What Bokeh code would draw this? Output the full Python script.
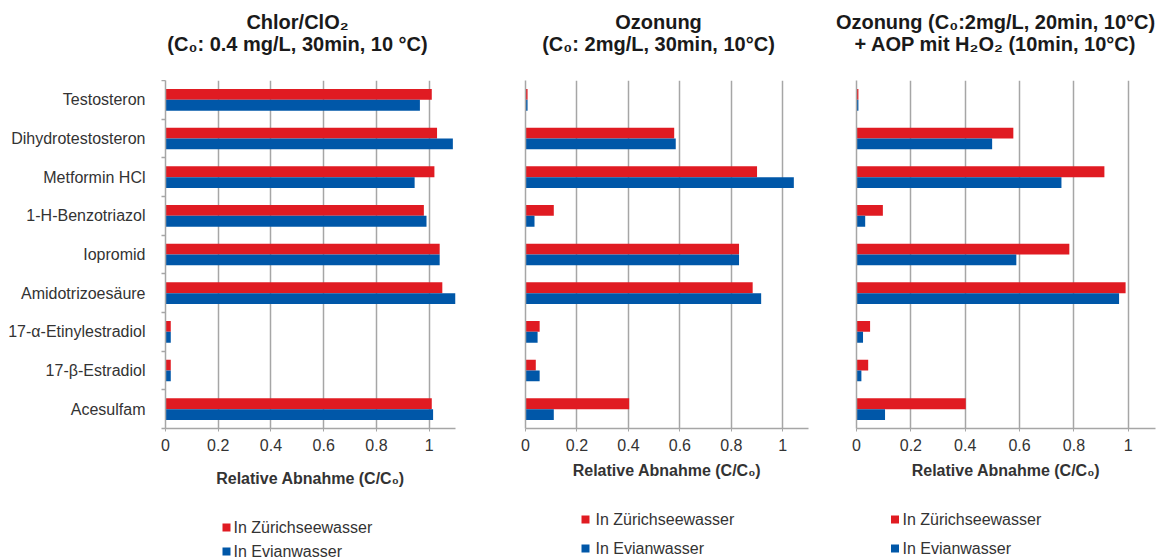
from bokeh.plotting import figure
from bokeh.layouts import row, column
from bokeh.models import ColumnDataSource, FixedTicker, Range1d
from bokeh.core.properties import value
from bokeh.embed import file_html
from bokeh.resources import INLINE

# Substances, top to bottom
categories = ["Testosteron", "Dihydrotestosteron", "Metformin HCl", "1-H-Benzotriazol",
              "Iopromid", "Amidotrizoesäure", "17-α-Etinylestradiol", "17-β-Estradiol",
              "Acesulfam"]

# Relative Abnahme C/C0 per treatment, two water matrices
chlor_zuerich = [1.01, 1.03, 1.02, 0.98, 1.04, 1.05, 0.02, 0.02, 1.01]
chlor_evian = [0.965, 1.09, 0.945, 0.99, 1.04, 1.10, 0.02, 0.02, 1.015]
ozon_zuerich = [0.008, 0.578, 0.90, 0.11, 0.83, 0.883, 0.055, 0.04, 0.403]
ozon_evian = [0.008, 0.584, 1.043, 0.035, 0.83, 0.916, 0.047, 0.055, 0.11]
aop_zuerich = [0.007, 0.577, 0.912, 0.097, 0.783, 0.99, 0.05, 0.043, 0.402]
aop_evian = [0.007, 0.499, 0.754, 0.032, 0.588, 0.966, 0.024, 0.018, 0.105]

titles = [
    ["Chlor/ClO₂", "(C₀: 0.4 mg/L, 30min, 10 °C)"],
    ["Ozonung", "(C₀: 2mg/L, 30min, 10°C)"],
    ["Ozonung (C₀:2mg/L, 20min, 10°C)", "+ AOP mit H₂O₂ (10min, 10°C)"],
]
series_names = ["In Zürichseewasser", "In Evianwasser"]
x_ticks = [0, 0.2, 0.4, 0.6, 0.8, 1.0]
x_tick_labels = ["0", "0.2", "0.4", "0.6", "0.8", "1"]
axis_title = "Relative Abnahme (C/C₀)"

RED = "#E01B22"
BLUE = "#0057A8"
series_colors = [RED, BLUE]
GRID = "#A6A6A6"
TXT = "#333333"
FONT = "Liberation Sans"

TOTAL_W = 1160
TITLE_H = 80      # heading strip
PLOT_H = 415      # frame (348 px) plus x axis
LEGEND_H = 65     # legend strip

n = len(categories)
centers = [n - i - 0.5 for i in range(n)]
bar_h = 0.28


def strip(height):
    """Axis-less full-width figure whose data units are pixels (y pointing down)."""
    s = figure(width=TOTAL_W, height=height, output_backend="svg", toolbar_location=None,
               x_range=Range1d(0, TOTAL_W), y_range=Range1d(height, 0),
               x_axis_location=None, y_axis_location=None, min_border=0)
    s.outline_line_color = None
    for g in s.grid:
        g.visible = False
    return s


# headings above the three panels
title_cx = [297, 658, 995]
heads = strip(TITLE_H)
heads.text(x=[cx for cx in title_cx for _ in range(2)],
           y=[21, 43] * 3,
           text=[line for pair in titles for line in pair],
           text_font=value(FONT), text_font_style="bold", text_font_size="20px",
           text_color="#1A1A1A", text_align="center", text_baseline="middle")

# legends below the three panels
legend_sq_x = [226, 585, 894.5]
legend_txt_x = [233, 595, 902]
legend_rows_y = [[32, 56], [24, 53], [24, 53]]
legs = strip(LEGEND_H)
lsrc = ColumnDataSource(dict(
    xs=[x for x in legend_sq_x for _ in series_names],
    xt=[x for x in legend_txt_x for _ in series_names],
    y=[y for ys in legend_rows_y for y in ys],
    name=series_names * 3,
    color=series_colors * 3))
legs.scatter(x="xs", y="y", marker="square", size=8, fill_color="color",
             line_color=None, source=lsrc)
legs.text(x="xt", y="y", text="name", source=lsrc, text_font=value(FONT),
          text_font_size="16px", text_color=TXT, text_align="left",
          text_baseline="middle")


def panel(zh, ev, width, left, right, show_labels, label_standoff):
    p = figure(width=width, height=PLOT_H, output_backend="svg", toolbar_location=None,
               x_range=Range1d(0, 1.1), y_range=Range1d(0, n),
               min_border_left=left, min_border_right=right,
               min_border_top=0, min_border_bottom=PLOT_H - 348)
    p.outline_line_color = None

    src = ColumnDataSource(dict(
        y_zh=[c + bar_h / 2 for c in centers],
        y_ev=[c - bar_h / 2 for c in centers],
        zh=zh, ev=ev))
    p.hbar(y="y_zh", left=0, right="zh", height=bar_h, source=src,
           fill_color=RED, line_color=None)
    p.hbar(y="y_ev", left=0, right="ev", height=bar_h, source=src,
           fill_color=BLUE, line_color=None)

    xa = p.xaxis[0]
    xa.ticker = FixedTicker(ticks=x_ticks)
    xa.major_label_overrides = {t: s for t, s in zip(x_ticks, x_tick_labels)}
    xa.major_label_text_font = FONT
    xa.major_label_text_font_size = "16px"
    xa.major_label_text_color = TXT
    xa.major_label_standoff = 7
    xa.axis_line_color = GRID
    xa.axis_line_width = 1.5
    xa.major_tick_line_color = GRID
    xa.major_tick_in = 0
    xa.major_tick_out = 3
    xa.minor_tick_line_color = None
    xa.axis_label = axis_title
    xa.axis_label_text_font = FONT
    xa.axis_label_text_font_style = "bold"
    xa.axis_label_text_font_size = "16px"
    xa.axis_label_text_color = TXT
    xa.axis_label_standoff = label_standoff

    # y axis: names at category centres, short ticks at category boundaries
    ya = p.yaxis[0]
    ya.axis_line_color = GRID
    ya.axis_line_width = 1.5
    ya.major_tick_out = 0
    ya.major_tick_in = 0
    ya.minor_tick_in = 0
    if show_labels:
        ya.ticker = FixedTicker(ticks=centers, minor_ticks=list(range(n + 1)))
        ya.major_label_overrides = {c: name for c, name in zip(centers, categories)}
        ya.major_label_text_font = FONT
        ya.major_label_text_font_size = "16px"
        ya.major_label_text_color = TXT
        ya.major_label_standoff = 16
        ya.minor_tick_out = 4
        ya.minor_tick_line_color = GRID
        ya.minor_tick_line_width = 1.5
    else:
        ya.ticker = FixedTicker(ticks=[])
        ya.major_label_text_font_size = "0px"
        ya.minor_tick_line_color = None

    p.xgrid.ticker = FixedTicker(ticks=x_ticks[1:])
    p.xgrid.grid_line_color = GRID
    p.xgrid.grid_line_width = 1.5
    p.ygrid.grid_line_color = None
    return p


p1 = panel(chlor_zuerich, chlor_evian, 490, 165, 35, True, 16)
p2 = panel(ozon_zuerich, ozon_evian, 340, 35, 22, False, 8)
p3 = panel(aop_zuerich, aop_evian, 330, 26, 5, False, 8)

layout = column(heads, row(p1, p2, p3), legs)
open("out.html", "w").write(file_html(layout, INLINE))
